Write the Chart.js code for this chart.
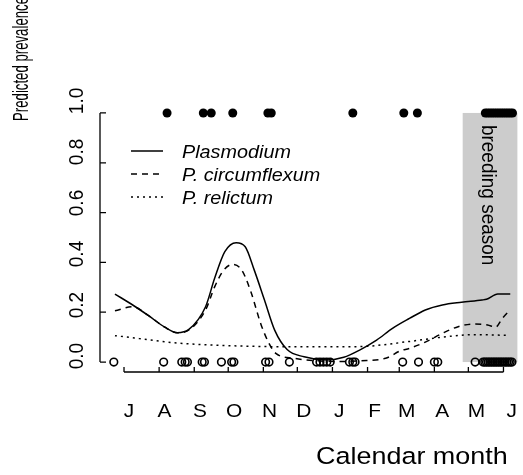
<!DOCTYPE html>
<html><head><meta charset="utf-8">
<script src="https://cdn.jsdelivr.net/npm/chart.js@4/dist/chart.umd.min.js"></script>
<style>html,body{margin:0;padding:0;background:#fff;}canvas{display:block;}</style>
</head><body>
<canvas id="c" width="523" height="475"></canvas>
<script>
// x values are days since 1 July
const monthTicks = [0, 31, 62, 92, 123, 153, 184, 215, 243, 274, 304, 335];
const monthLabels = ['J','A','S','O','N','D','J','F','M','A','M','J'];
const yTicks = [0, 0.2, 0.4, 0.6, 0.8, 1.0];
const yTickLabels = ['0.0','0.2','0.4','0.6','0.8','1.0'];
const breedingStart = 299;
const breedingEnd = 366;

const plasmodiumDays = [-8, 8, 22, 36, 47, 57, 72, 80, 89, 99, 107, 115, 124, 133, 144, 159, 179, 194, 208, 223, 237, 252, 266, 281, 298, 316, 320, 330, 341];
const plasmodiumPrev = [0.273, 0.228, 0.185, 0.14, 0.118, 0.13, 0.222, 0.336, 0.443, 0.479, 0.463, 0.369, 0.249, 0.128, 0.05, 0.021, 0.008, 0.019, 0.048, 0.088, 0.135, 0.175, 0.209, 0.229, 0.24, 0.249, 0.252, 0.273, 0.273];

const circumflexumDays = [-8, 8, 22, 36, 47, 57, 72, 80, 88, 96, 104, 112, 121, 128, 134, 150, 171, 192, 208, 231, 244, 252, 266, 281, 295, 310, 321, 328, 334, 341];
const circumflexumPrev = [0.206, 0.222, 0.185, 0.14, 0.118, 0.128, 0.209, 0.302, 0.369, 0.392, 0.369, 0.282, 0.15, 0.075, 0.035, 0.015, 0.005, 0.002, 0.005, 0.015, 0.045, 0.055, 0.08, 0.115, 0.142, 0.153, 0.149, 0.14, 0.175, 0.21];

const relictumDays = [-8, 28, 43, 57, 115, 173, 208, 251, 281, 310, 339];
const relictumPrev = [0.106, 0.086, 0.078, 0.073, 0.063, 0.061, 0.062, 0.082, 0.1, 0.11, 0.107];

const infectedDays = [38, 70, 77, 96, 127, 130, 202, 247, 259, 319, 321, 323, 325, 327, 329, 331, 333, 335, 337, 339, 341, 343];
const uninfectedDays = [-9, 35, 51, 54, 56, 69, 71, 86, 95, 97, 125, 128, 146, 170, 173, 176, 179, 182, 199, 202, 204, 246, 260, 274, 277, 310, 317, 318.5, 320, 321.5, 323, 324.5, 326, 327.5, 329, 330.5, 332, 333.5, 335, 336.5, 338, 339.5, 341, 342.5];

const FONT = '"Liberation Sans", Arial, Helvetica, sans-serif';
const STRETCH = 1.1;
const pts = (xs, ys) => xs.map((x, i) => ({x, y: ys[i]}));

function text(ctx, str, x, y, opts) {
  ctx.save();
  ctx.translate(x, y);
  if (opts.rotate) ctx.rotate(opts.rotate);
  if (opts.rotate) ctx.scale(1, STRETCH); else ctx.scale(STRETCH, 1);
  ctx.font = opts.font;
  ctx.textAlign = opts.align || 'center';
  ctx.textBaseline = opts.baseline || 'alphabetic';
  if (opts.maxWidth) ctx.fillText(str, 0, 0, opts.maxWidth); else ctx.fillText(str, 0, 0);
  ctx.restore();
}

const curveBase = {showLine: true, pointRadius: 0, borderColor: '#000', borderWidth: 1.5, backgroundColor: '#000', tension: 0.4, cubicInterpolationMode: 'monotone', fill: false};

const bgPlugin = {
  id: 'breeding',
  beforeDatasetsDraw(chart) {
    const {ctx, scales: {x, y}, chartArea} = chart;
    ctx.save();
    ctx.beginPath();
    ctx.rect(chartArea.left, chartArea.top, chartArea.right - chartArea.left, chartArea.bottom - chartArea.top);
    ctx.clip();
    const x0 = x.getPixelForValue(breedingStart), x1 = x.getPixelForValue(breedingEnd);
    const y0 = y.getPixelForValue(1), y1 = y.getPixelForValue(0);
    ctx.fillStyle = '#cccccc';
    ctx.fillRect(x0, y0, x1 - x0, y1 - y0);
    ctx.fillStyle = '#000';
    text(ctx, 'breeding season', x0 + 25, y.getPixelForValue(0.67), {font: '19px ' + FONT, baseline: 'middle', rotate: Math.PI / 2});
    ctx.restore();
  }
};

const axesPlugin = {
  id: 'rAxes',
  afterDatasetsDraw(chart) {
    const {ctx, scales: {x, y}, chartArea} = chart;
    const ax = chartArea.left, by = chartArea.bottom;
    ctx.save();
    ctx.strokeStyle = '#000';
    ctx.lineWidth = 1.3;
    ctx.setLineDash([]);
    ctx.beginPath();
    ctx.moveTo(ax, y.getPixelForValue(yTicks[0]));
    ctx.lineTo(ax, y.getPixelForValue(yTicks[yTicks.length - 1]));
    yTicks.forEach(v => { const py = y.getPixelForValue(v); ctx.moveTo(ax, py); ctx.lineTo(ax + 6, py); });
    ctx.moveTo(x.getPixelForValue(monthTicks[0]), by);
    ctx.lineTo(x.getPixelForValue(monthTicks[monthTicks.length - 1]), by);
    monthTicks.forEach(d => { const px = x.getPixelForValue(d); ctx.moveTo(px, by); ctx.lineTo(px, by - 5); });
    ctx.stroke();

    ctx.fillStyle = '#000';
    yTicks.forEach((v, i) => {
      text(ctx, yTickLabels[i], ax - 17, y.getPixelForValue(v) - 6 - 6 * v, {font: '19px ' + FONT, rotate: -Math.PI / 2});
    });
    monthTicks.forEach((d, i) => {
      text(ctx, monthLabels[i], x.getPixelForValue(d) + 5 + 0.01 * d, by + 45, {font: '19px ' + FONT});
    });

    // axis titles
    text(ctx, 'Calendar month', 316, by + 92, {font: '24.5px ' + FONT, align: 'left'});
    text(ctx, 'Predicted prevalence', 28, 59, {font: '19.5px ' + FONT, rotate: -Math.PI / 2, maxWidth: 124});

    // legend
    const rows = [151, 174, 197];
    chart.data.datasets.slice(0, 3).forEach((ds, i) => {
      ctx.setLineDash(ds.borderDash || []);
      ctx.lineWidth = 1.5;
      ctx.beginPath();
      ctx.moveTo(131, rows[i]);
      ctx.lineTo(163, rows[i]);
      ctx.stroke();
      text(ctx, ds.label, 182, rows[i] + 7, {font: 'italic 18px ' + FONT, align: 'left'});
    });
    ctx.restore();
  }
};

new Chart(document.getElementById('c'), {
  type: 'scatter',
  data: {
    datasets: [
      Object.assign({label: 'Plasmodium', data: pts(plasmodiumDays, plasmodiumPrev)}, curveBase),
      Object.assign({label: 'P. circumflexum', data: pts(circumflexumDays, circumflexumPrev), borderDash: [6, 5]}, curveBase),
      Object.assign({label: 'P. relictum', data: pts(relictumDays, relictumPrev), borderDash: [2, 4]}, curveBase),
      {label: 'infected', data: infectedDays.map(d => ({x: d, y: 1})), pointRadius: 4.5, backgroundColor: '#000', borderColor: '#000', borderWidth: 0, showLine: false},
      {label: 'uninfected', data: uninfectedDays.map(d => ({x: d, y: 0})), pointRadius: 3.8, backgroundColor: 'rgba(0,0,0,0)', borderColor: '#000', borderWidth: 1.6, showLine: false}
    ]
  },
  options: {
    responsive: false,
    animation: false,
    devicePixelRatio: 1,
    events: [],
    layout: {padding: {left: 100, right: 0, top: 103, bottom: 103}},
    scales: {
      x: {type: 'linear', min: -21.2, max: 347.3, display: false},
      y: {type: 'linear', min: -0.04, max: 1.04, display: false}
    },
    plugins: {legend: {display: false}, tooltip: {enabled: false}}
  },
  plugins: [bgPlugin, axesPlugin]
});
</script>
</body></html>
